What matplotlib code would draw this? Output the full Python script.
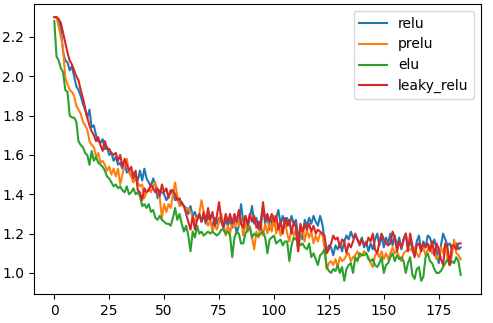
import matplotlib
matplotlib.use("Agg")
import matplotlib.pyplot as plt
import numpy as np

labels = ["relu", "prelu", "elu", "leaky_relu"]

relu = [
    2.30, 2.30, 2.28, 2.24, 2.12, 2.08, 2.07, 2.03, 2.05, 2.00,
    1.95, 1.93, 1.90, 1.86, 1.83, 1.79, 1.83, 1.74, 1.75, 1.70,
    1.67, 1.66, 1.68, 1.63, 1.64, 1.60, 1.61, 1.57, 1.59, 1.55,
    1.56, 1.53, 1.55, 1.51, 1.52, 1.49, 1.51, 1.50, 1.47, 1.52,
    1.47, 1.53, 1.48, 1.46, 1.44, 1.48, 1.45, 1.38, 1.42, 1.41,
    1.40, 1.37, 1.39, 1.42, 1.40, 1.37, 1.38, 1.35, 1.36, 1.34,
    1.33, 1.30, 1.34, 1.29, 1.31, 1.27, 1.30, 1.26, 1.29, 1.25,
    1.29, 1.26, 1.24, 1.28, 1.25, 1.28, 1.26, 1.23, 1.27, 1.24,
    1.27, 1.23, 1.27, 1.20, 1.24, 1.35, 1.26, 1.29, 1.23, 1.28,
    1.34, 1.25, 1.28, 1.22, 1.27, 1.34, 1.25, 1.29, 1.22, 1.27,
    1.24, 1.28, 1.32, 1.25, 1.29, 1.23, 1.28, 1.24, 1.29, 1.25,
    1.27, 1.18, 1.22, 1.17, 1.27, 1.24, 1.28, 1.25, 1.29, 1.26,
    1.24, 1.29, 1.25, 1.17, 1.11, 1.14, 1.13, 1.09, 1.14, 1.12,
    1.15, 1.11, 1.16, 1.19, 1.17, 1.21, 1.18, 1.19, 1.17, 1.15,
    1.18, 1.13, 1.16, 1.11, 1.15, 1.12, 1.17, 1.20, 1.14, 1.19,
    1.13, 1.18, 1.15, 1.20, 1.14, 1.19, 1.13, 1.18, 1.12, 1.17,
    1.20, 1.13, 1.17, 1.12, 1.09, 1.16, 1.19, 1.11, 1.16, 1.13,
    1.19, 1.18, 1.14, 1.17, 1.12, 1.05, 1.14, 1.20, 1.17, 1.14,
    1.15, 1.12, 1.13, 1.15, 1.12, 1.13,
]

prelu = [
    2.30, 2.30, 2.25, 2.20, 2.14, 1.99, 1.96, 1.93, 1.92, 1.90,
    1.85, 1.83, 1.81, 1.77, 1.75, 1.73, 1.67, 1.65, 1.64, 1.59,
    1.61, 1.56, 1.57, 1.55, 1.52, 1.54, 1.50, 1.53, 1.49, 1.53,
    1.45, 1.50, 1.55, 1.58, 1.51, 1.49, 1.46, 1.48, 1.46, 1.44,
    1.45, 1.38, 1.41, 1.43, 1.41, 1.44, 1.46, 1.42, 1.38, 1.28,
    1.35, 1.31, 1.35, 1.33, 1.40, 1.46, 1.39, 1.34, 1.35, 1.34,
    1.32, 1.33, 1.31, 1.29, 1.26, 1.28, 1.30, 1.37, 1.31, 1.27,
    1.24, 1.27, 1.21, 1.25, 1.22, 1.26, 1.30, 1.25, 1.19, 1.24,
    1.20, 1.26, 1.23, 1.27, 1.24, 1.28, 1.19, 1.25, 1.21, 1.24,
    1.18, 1.12, 1.21, 1.18, 1.24, 1.19, 1.25, 1.20, 1.26, 1.21,
    1.29, 1.20, 1.25, 1.19, 1.23, 1.27, 1.20, 1.16, 1.23, 1.19,
    1.22, 1.11, 1.19, 1.23, 1.16, 1.22, 1.18, 1.21, 1.15, 1.19,
    1.16, 1.20, 1.20, 1.13, 1.02, 1.05, 1.06, 1.04, 1.07, 1.03,
    1.08, 1.06, 1.07, 1.09, 1.10, 1.06, 1.08, 1.09, 1.11, 1.08,
    1.09, 1.11, 1.10, 1.08, 1.05, 1.03, 1.09, 1.10, 1.08, 1.11,
    1.07, 1.10, 1.07, 1.10, 1.13, 1.10, 1.11, 1.08, 1.06, 1.10,
    1.11, 1.12, 1.12, 1.11, 1.13, 1.10, 1.08, 1.12, 1.13, 1.09,
    1.12, 1.14, 1.10, 1.10, 1.07, 1.09, 1.13, 1.10, 1.15, 1.07,
    1.04, 1.09, 1.17, 1.10, 1.09, 1.07,
]

elu = [
    2.28, 2.10, 2.08, 2.04, 2.02, 1.93, 1.92, 1.80, 1.79, 1.79,
    1.77, 1.67, 1.65, 1.64, 1.61, 1.60, 1.55, 1.62, 1.57, 1.59,
    1.56, 1.55, 1.54, 1.52, 1.49, 1.48, 1.46, 1.44, 1.45, 1.43,
    1.44, 1.42, 1.41, 1.44, 1.40, 1.41, 1.43, 1.40, 1.41, 1.39,
    1.34, 1.35, 1.33, 1.35, 1.31, 1.32, 1.28, 1.27, 1.29, 1.27,
    1.26, 1.25, 1.25, 1.24, 1.28, 1.33, 1.27, 1.30, 1.25, 1.21,
    1.24, 1.19, 1.11, 1.21, 1.18, 1.24, 1.20, 1.21, 1.19, 1.20,
    1.21, 1.20, 1.21, 1.20, 1.19, 1.20, 1.22, 1.22, 1.20, 1.21,
    1.19, 1.08, 1.18, 1.21, 1.20, 1.15, 1.15, 1.20, 1.22, 1.23,
    1.18, 1.20, 1.19, 1.19, 1.20, 1.21, 1.18, 1.10, 1.17, 1.18,
    1.19, 1.15, 1.16, 1.17, 1.14, 1.16, 1.16, 1.06, 1.14, 1.18,
    1.17, 1.16, 1.14, 1.15, 1.13, 1.12, 1.15, 1.08, 1.10, 1.07,
    1.04, 1.09, 1.10, 1.12, 1.03, 1.01, 1.00, 1.02, 1.01, 1.04,
    1.00, 1.03, 0.96, 1.02, 1.04, 1.05, 1.00, 1.08, 1.06, 1.10,
    1.09, 1.09, 1.10, 1.07, 1.06, 1.07, 1.04, 1.03, 1.05, 1.08,
    1.00, 1.04, 1.05, 1.08, 1.10, 1.06, 1.09, 1.07, 1.08, 1.06,
    1.00, 1.05, 1.08, 0.99, 0.97, 1.02, 1.03, 0.96, 0.98, 1.08,
    1.10, 1.06, 1.05, 1.02, 1.00, 1.00, 1.01, 1.03, 1.05, 1.07,
    1.04, 1.06, 1.05, 1.08, 1.06, 0.99,
]

leaky_relu = [
    2.30, 2.30, 2.29, 2.27, 2.22, 2.17, 2.12, 2.08, 2.06, 2.03,
    2.00, 1.98, 1.93, 1.89, 1.84, 1.79, 1.75, 1.72, 1.70, 1.67,
    1.69, 1.65, 1.62, 1.67, 1.63, 1.63, 1.61, 1.60, 1.61, 1.57,
    1.60, 1.54, 1.58, 1.55, 1.52, 1.54, 1.48, 1.52, 1.42, 1.41,
    1.37, 1.43, 1.41, 1.42, 1.45, 1.43, 1.41, 1.43, 1.39, 1.45,
    1.41, 1.43, 1.38, 1.42, 1.42, 1.40, 1.37, 1.38, 1.35, 1.34,
    1.30, 1.26, 1.22, 1.29, 1.22, 1.27, 1.30, 1.26, 1.31, 1.26,
    1.33, 1.27, 1.31, 1.24, 1.29, 1.36, 1.27, 1.23, 1.30, 1.26,
    1.30, 1.25, 1.30, 1.26, 1.32, 1.25, 1.23, 1.29, 1.25, 1.30,
    1.26, 1.29, 1.23, 1.26, 1.22, 1.36, 1.27, 1.30, 1.26, 1.30,
    1.26, 1.29, 1.22, 1.26, 1.20, 1.28, 1.24, 1.27, 1.20, 1.26,
    1.23, 1.11, 1.25, 1.21, 1.25, 1.22, 1.25, 1.21, 1.24, 1.20,
    1.22, 1.21, 1.20, 1.19, 1.10, 1.12, 1.15, 1.19, 1.17, 1.18,
    1.13, 1.17, 1.16, 1.10, 1.15, 1.13, 1.16, 1.20, 1.17, 1.14,
    1.17, 1.15, 1.14, 1.18, 1.16, 1.20, 1.12, 1.10, 1.16, 1.20,
    1.17, 1.15, 1.14, 1.15, 1.21, 1.18, 1.11, 1.16, 1.13, 1.17,
    1.20, 1.11, 1.20, 1.14, 1.08, 1.14, 1.15, 1.11, 1.15, 1.13,
    1.15, 1.11, 1.16, 1.09, 1.15, 1.12, 1.07, 1.04, 1.15, 1.13,
    1.04, 1.14, 1.14, 1.12, 1.15, 1.15,
]

series = [relu, prelu, elu, leaky_relu]

fig = plt.figure(figsize=(4.93, 3.23), dpi=100)
ax = fig.add_axes([34/493, 29/323, 447/493, 290/323])
for s, lab in zip(series, labels):
    ax.plot(np.arange(len(s)), s, label=lab, linewidth=1.5)
ax.set_yticks([1.0, 1.2, 1.4, 1.6, 1.8, 2.0, 2.2])
ax.set_xticks([0, 25, 50, 75, 100, 125, 150, 175])
ax.legend(loc="upper right")
fig.savefig("out.png", dpi=100)
